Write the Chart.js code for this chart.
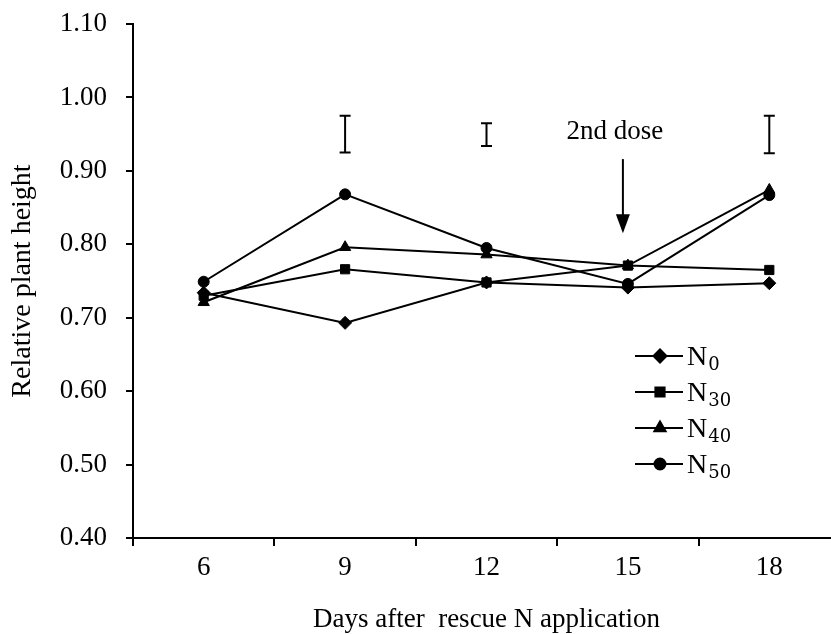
<!DOCTYPE html>
<html>
<head>
<meta charset="utf-8">
<title>Relative plant height</title>
<script src="https://cdn.jsdelivr.net/npm/chart.js@4.4.1/dist/chart.umd.min.js"></script>
<style>
  html, body { margin: 0; padding: 0; background: #fff; overflow: hidden; }
  #wrap { width: 860px; height: 634px; }
</style>
</head>
<body>
<div id="wrap"><canvas id="heightChart" width="860" height="634"></canvas></div>
<script>
// Data
const days = ['6', '9', '12', '15', '18'];
const n0 = [0.734, 0.693, 0.748, 0.741, 0.747];
const n30 = [0.730, 0.766, 0.748, 0.771, 0.765];
const n40 = [0.721, 0.796, 0.786, 0.771, 0.874];
const n50 = [0.749, 0.868, 0.795, 0.746, 0.867];
const seriesSubs = ['0', '30', '40', '50'];
const seriesShapes = ['rectRot', 'rect', 'triangle', 'circle'];

// LSD bars drawn above the lines (null = none)
const lsdLow = [null, 0.925, 0.934, null, 0.924];
const lsdHigh = [null, 0.975, 0.965, null, 0.975];

// second dose marker
const doseIndex = 3;
const doseLabel = '2nd dose';
const doseTextValue = 0.953;
const doseArrowFrom = 0.916;
const doseArrowTo = 0.815;

const yTicks = [0.40, 0.50, 0.60, 0.70, 0.80, 0.90, 1.00, 1.10];

const SERIF = '"Liberation Serif", "Times New Roman", serif';

const extrasPlugin = {
    id: 'extras',
    afterDatasetsDraw(chart) {
        const ctx = chart.ctx;
        const x = chart.scales.x;
        const y = chart.scales.y;
        const ca = chart.chartArea;
        ctx.save();
        ctx.strokeStyle = '#000';
        ctx.fillStyle = '#000';

        // LSD bars
        ctx.lineWidth = 2;
        lsdLow.forEach((lo, i) => {
            if (lo === null) return;
            const px = x.getPixelForValue(i);
            const top = y.getPixelForValue(lsdHigh[i]);
            const bot = y.getPixelForValue(lo);
            ctx.beginPath();
            ctx.moveTo(px, top); ctx.lineTo(px, bot);
            ctx.moveTo(px - 5.5, top); ctx.lineTo(px + 5.5, top);
            ctx.moveTo(px - 5.5, bot); ctx.lineTo(px + 5.5, bot);
            ctx.stroke();
        });

        // 2nd dose arrow
        const ax = x.getPixelForValue(doseIndex) - 5;
        const a0 = y.getPixelForValue(doseArrowFrom);
        const a1 = y.getPixelForValue(doseArrowTo);
        ctx.beginPath();
        ctx.moveTo(ax, a0); ctx.lineTo(ax, a1 - 16);
        ctx.stroke();
        ctx.beginPath();
        ctx.moveTo(ax - 7, a1 - 19);
        ctx.lineTo(ax + 7, a1 - 19);
        ctx.lineTo(ax, a1);
        ctx.closePath();
        ctx.fill();
        ctx.font = '27px ' + SERIF;
        ctx.textAlign = 'center';
        ctx.textBaseline = 'middle';
        ctx.fillText(doseLabel, ax - 8, y.getPixelForValue(doseTextValue));

        // legend
        const lx = ca.right - 205;
        chart.data.datasets.forEach((ds, i) => {
            const ly = 356 + i * 36;
            ctx.lineWidth = 2;
            ctx.beginPath();
            ctx.moveTo(lx, ly); ctx.lineTo(lx + 48, ly);
            ctx.stroke();
            Chart.helpers.drawPoint(ctx, {
                pointStyle: seriesShapes[i],
                radius: ds.pointRadius,
                borderWidth: 1
            }, lx + 25, ly);
            ctx.textAlign = 'left';
            ctx.textBaseline = 'alphabetic';
            ctx.font = '28px ' + SERIF;
            ctx.fillText('N', lx + 52, ly + 9);
            const nw = ctx.measureText('N').width;
            ctx.font = '18px "DejaVu Serif", serif';
            ctx.fillText(seriesSubs[i], lx + 52 + nw + 1, ly + 14);
        });
        ctx.restore();
    }
};

function makeSet(label, values, shape) {
    return {
        label: label,
        data: values,
        borderColor: '#000',
        backgroundColor: '#000',
        borderWidth: 2,
        tension: 0,
        pointStyle: shape,
        pointRadius: shape === 'circle' ? 5.5 : 6.5,
        pointBorderWidth: 1,
        pointBackgroundColor: '#000',
        pointBorderColor: '#000'
    };
}

new Chart(document.getElementById('heightChart'), {
    type: 'line',
    data: {
        labels: days,
        datasets: [
            makeSet('N0', n0, seriesShapes[0]),
            makeSet('N30', n30, seriesShapes[1]),
            makeSet('N40', n40, seriesShapes[2]),
            makeSet('N50', n50, seriesShapes[3])
        ]
    },
    options: {
        responsive: false,
        animation: false,
        layout: { padding: { top: 24, right: 20, left: 0, bottom: 0 } },
        plugins: {
            legend: { display: false },
            tooltip: { enabled: false }
        },
        scales: {
            x: {
                type: 'category',
                offset: true,
                grid: {
                    offset: true,
                    drawOnChartArea: false,
                    color: '#000',
                    lineWidth: 2,
                    tickLength: 8
                },
                border: { color: '#000', width: 2 },
                ticks: {
                    color: '#000',
                    padding: 6,
                    font: { family: SERIF, size: 27 }
                },
                title: {
                    display: true,
                    text: 'Days after  rescue N application',
                    color: '#000',
                    font: { family: SERIF, size: 27, lineHeight: 1 },
                    padding: { top: 0, bottom: 1 }
                },
                afterFit(scale) { scale.height = 96; }
            },
            y: {
                min: 0.4,
                max: 1.1,
                afterBuildTicks(scale) {
                    scale.ticks = yTicks.map(v => ({ value: v }));
                },
                grid: {
                    drawOnChartArea: false,
                    color: '#000',
                    lineWidth: 2,
                    tickLength: 7
                },
                border: { color: '#000', width: 2 },
                ticks: {
                    color: '#000',
                    padding: 19,
                    font: { family: SERIF, size: 27 },
                    callback: v => Number(v).toFixed(2)
                },
                title: {
                    display: true,
                    text: 'Relative plant height',
                    color: '#000',
                    font: { family: SERIF, size: 28, lineHeight: 1 },
                    padding: { top: 9, bottom: 0 }
                },
                afterFit(scale) {
                    scale.width = 133;
                    // keep the plot top where the figure has it
                    scale.paddingTop = 10;
                    scale.paddingBottom = 10;
                }
            }
        }
    },
    plugins: [extrasPlugin]
});
</script>
</body>
</html>
